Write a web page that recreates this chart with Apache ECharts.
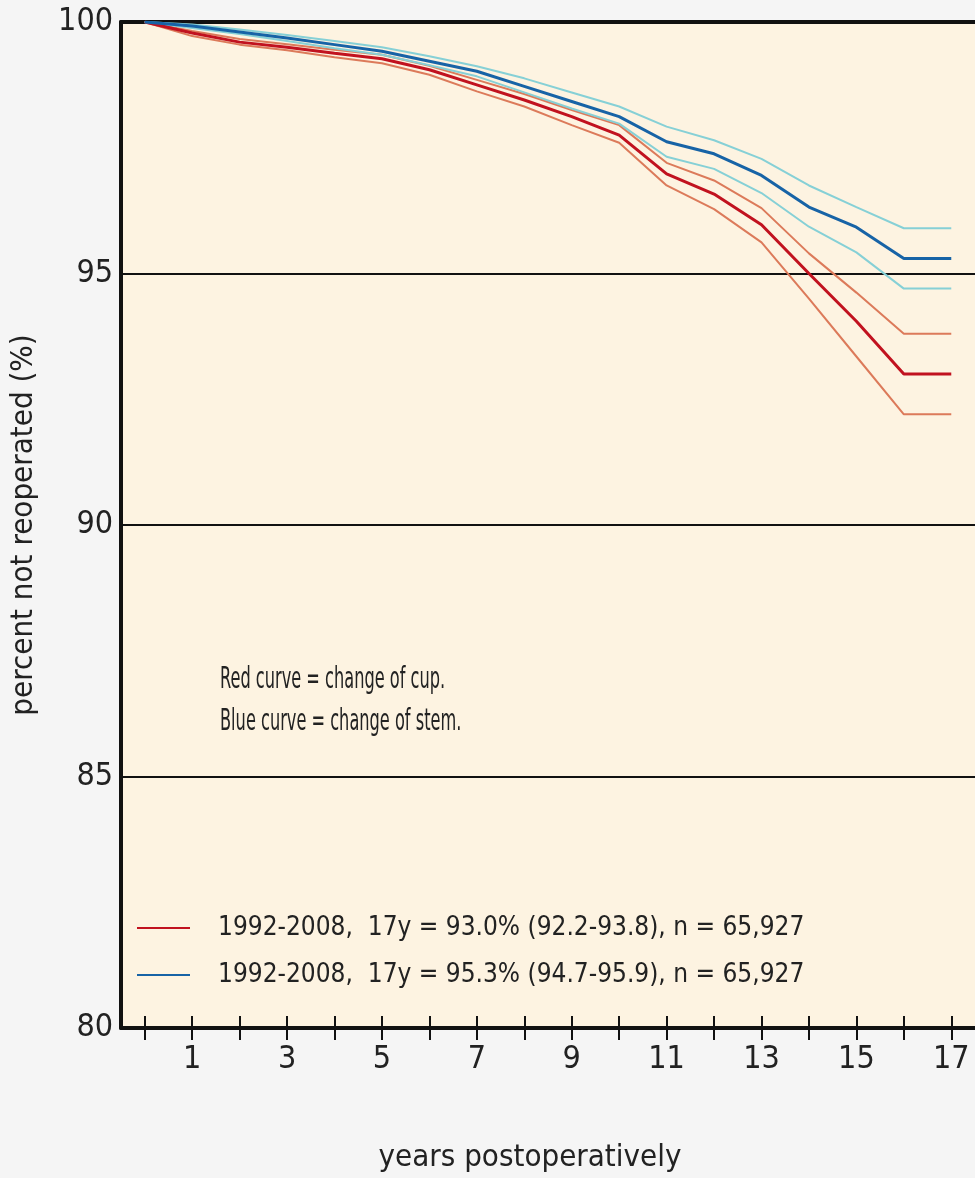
<!DOCTYPE html>
<html><head><meta charset="utf-8">
<script src="https://cdn.jsdelivr.net/npm/echarts@6/dist/echarts.min.js"></script>
<style>html,body{margin:0;padding:0;background:#f5f5f5;}#c{width:975px;height:1178px;}</style>
</head><body><div id="c"></div>
<script>
const years = [0,1,2,3,4,5,6,7,8,9,10,11,12,13,14,15,16,17];
const xTicks = [0,1,2,3,4,5,6,7,8,9,10,11,12,13,14,15,16,17];
const xLabels = [1,3,5,7,9,11,13,15,17];
const yLabels = [80,85,90,95,100];
const stemMain  = [100,99.92,99.8,99.68,99.55,99.42,99.22,99.02,98.72,98.42,98.12,97.62,97.38,96.95,96.32,95.92,95.3,95.3];
const stemUpper = [100,99.95,99.85,99.74,99.62,99.5,99.32,99.12,98.88,98.6,98.32,97.92,97.65,97.28,96.75,96.32,95.9,95.9];
const stemLower = [100,99.88,99.76,99.62,99.48,99.35,99.14,98.92,98.6,98.28,97.98,97.32,97.08,96.6,95.93,95.42,94.7,94.7];
const cupMain   = [100,99.78,99.6,99.5,99.38,99.27,99.05,98.75,98.45,98.12,97.75,96.98,96.58,95.97,95.0,94.05,93.0,93.0];
const cupUpper  = [100,99.82,99.66,99.56,99.45,99.35,99.13,98.85,98.57,98.25,97.95,97.2,96.85,96.3,95.4,94.62,93.8,93.8];
const cupLower  = [100,99.72,99.55,99.44,99.3,99.18,98.95,98.62,98.32,97.95,97.6,96.75,96.28,95.62,94.5,93.35,92.2,92.2];
const cupName  = '1992-2008,  17y = 93.0% (92.2-93.8), n = 65,927';
const stemName = '1992-2008,  17y = 95.3% (94.7-95.9), n = 65,927';
const noteLines = ['Red curve = change of cup.', 'Blue curve = change of stem.'];

const FONT = '"Liberation Sans Narrow","DejaVu Sans Condensed",sans-serif';
const pair = arr => years.map((y,i)=>[y,arr[i]]);
function band(name, data, color, w){
  return {name, type:'line', data:pair(data), symbol:'none', smooth:false, z:3,
    lineStyle:{color, width:w}, itemStyle:{color}, silent:true};
}
const chart = echarts.init(document.getElementById('c'));
chart.setOption({
  backgroundColor:'#f5f5f5',
  animation:false,
  grid:{left:118, top:22, right:-7, bottom:150, show:true, backgroundColor:'#fdf3e1', borderWidth:0},
  xAxis:[
    {type:'value', min:-0.5, max:17.5, position:'bottom',
     axisLine:{show:true, onZero:false, lineStyle:{color:'#111', width:4}},
     axisTick:{show:true, inside:false, length:12, customValues:xTicks, lineStyle:{color:'#111', width:2}},
     axisLabel:{show:true, customValues:xLabels, margin:16, fontFamily:FONT, fontSize:32, color:'#222'},
     splitLine:{show:false},
     name:'years postoperatively', nameLocation:'middle', nameGap:114,
     nameTextStyle:{fontFamily:FONT, fontSize:31, color:'#222', padding:[0,36,0,0]}},
    {type:'value', min:-0.5, max:17.5, position:'bottom',
     axisLine:{show:false},
     axisTick:{show:true, inside:true, length:12, customValues:xTicks, lineStyle:{color:'#111', width:2}},
     axisLabel:{show:false}, splitLine:{show:false}},
    {type:'value', min:-0.5, max:17.5, position:'top',
     axisLine:{show:true, onZero:false, lineStyle:{color:'#111', width:4}},
     axisTick:{show:false}, axisLabel:{show:false}, splitLine:{show:false}}
  ],
  yAxis:{type:'value', min:80, max:100, interval:5,
    axisLine:{show:true, onZero:false, lineStyle:{color:'#111', width:4}},
    axisTick:{show:false},
    axisLabel:{margin:8, fontFamily:FONT, fontSize:32, color:'#222',
      formatter:v => yLabels.indexOf(v)>=0 ? String(v) : ''},
    splitLine:{show:true, lineStyle:{color:'#111', width:2}},
    name:'percent not reoperated (%)', nameLocation:'middle', nameGap:82, nameRotate:90,
    nameTextStyle:{fontFamily:FONT, fontSize:31, color:'#222'}},
  legend:{show:true, orient:'vertical', left:137, top:913, padding:0, itemGap:17,
    icon:'rect', itemWidth:53, itemHeight:2, data:[cupName, stemName],
    textStyle:{fontFamily:FONT, fontSize:26, color:'#222', padding:[0,0,0,23], lineHeight:30}},
  graphic:[
    {type:'text', left:220, top:665, scaleX:0.6, style:{text:noteLines[0], font:'30px '+FONT, fill:'#222'}},
    {type:'text', left:220, top:707, scaleX:0.6, style:{text:noteLines[1], font:'30px '+FONT, fill:'#222'}}
  ],
  series:[
    band('cupLower', cupLower, '#dc7a5a', 2),
    band('cupUpper', cupUpper, '#dc7a5a', 2),
    band('stemLower', stemLower, '#86d0d6', 2),
    band('stemUpper', stemUpper, '#86d0d6', 2),
    Object.assign(band(cupName, cupMain, '#c1121f', 3), {z:4, lineStyle:{color:'#c1121f', width:3}}),
    Object.assign(band(stemName, stemMain, '#1763a6', 3), {z:4, lineStyle:{color:'#1763a6', width:3}})
  ]
});
</script></body></html>
